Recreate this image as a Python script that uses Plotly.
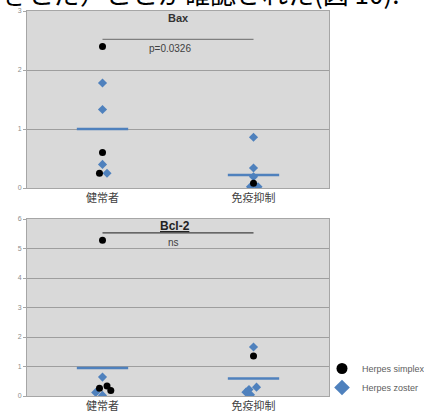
import plotly.graph_objects as go

W, H = 424, 414

categories = ["健常者", "免疫抑制"]

# Bax panel
bax_simplex_group = [0, 0, 0, 1]
bax_simplex_vals = [2.40, 0.60, 0.25, 0.08]
bax_simplex_jit = [0.0, 0.0, -0.02, 0.0]
bax_zoster_group = [0, 0, 0, 0, 1, 1, 1, 1, 1]
bax_zoster_vals = [1.78, 1.33, 0.40, 0.25, 0.86, 0.34, 0.19, 0.02, 0.02]
bax_zoster_jit = [0.0, 0.0, 0.0, 0.03, 0.0, 0.0, 0.0, -0.02, 0.03]
bax_means = [1.00, 0.22]
bax_sig_y = 2.52
bax_sig_text = "p=0.0326"

# Bcl-2 panel
bcl_simplex_group = [0, 0, 0, 0, 1]
bcl_simplex_vals = [5.28, 0.34, 0.26, 0.19, 1.36]
bcl_simplex_jit = [0.0, 0.03, -0.02, 0.055, 0.0]
bcl_zoster_group = [0, 0, 0, 1, 1, 1, 1, 1]
bcl_zoster_vals = [0.64, 0.12, 0.02, 1.66, 0.30, 0.22, 0.13, 0.04]
bcl_zoster_jit = [0.0, -0.045, 0.0, 0.0, 0.02, -0.03, -0.05, -0.02]
bcl_means = [0.95, 0.59]
bcl_sig_y = 5.53
bcl_sig_text = "ns"

BLUE = "#4f81bd"
BG = "#d9d9d9"
GRID = "#9e9e9e"

x_dom = [27 / W, 329 / W]
top_dom = [1 - 188 / H, 1 - 11 / H]
bot_dom = [1 - 396 / H, 1 - 219 / H]

fig = go.Figure()


def add_panel(xa, ya, s_grp, s_vals, s_jit, z_grp, z_vals, z_jit, means, sig_y):
    half = 0.17
    for i, m in enumerate(means):
        fig.add_trace(go.Scatter(x=[i - half, i + half], y=[m, m], mode="lines",
                                 line=dict(color=BLUE, width=2.5), showlegend=False,
                                 hoverinfo="skip", xaxis=xa, yaxis=ya))
    fig.add_trace(go.Scatter(x=[0, 1], y=[sig_y, sig_y], mode="lines",
                             line=dict(color="#7f7f7f" if ya == "y" else "#404040", width=1.3),
                             showlegend=False, xaxis=xa, yaxis=ya))
    fig.add_trace(go.Scatter(x=[g + j for g, j in zip(z_grp, z_jit)], y=z_vals, mode="markers",
                             marker=dict(symbol="diamond", color=BLUE, size=7),
                             name="Herpes zoster", showlegend=False, xaxis=xa, yaxis=ya))
    fig.add_trace(go.Scatter(x=[g + j for g, j in zip(s_grp, s_jit)], y=s_vals, mode="markers",
                             marker=dict(symbol="circle", color="black", size=7),
                             name="Herpes simplex", showlegend=False, xaxis=xa, yaxis=ya))


add_panel("x", "y", bax_simplex_group, bax_simplex_vals, bax_simplex_jit,
          bax_zoster_group, bax_zoster_vals, bax_zoster_jit, bax_means, bax_sig_y)
add_panel("x2", "y2", bcl_simplex_group, bcl_simplex_vals, bcl_simplex_jit,
          bcl_zoster_group, bcl_zoster_vals, bcl_zoster_jit, bcl_means, bcl_sig_y)

# legend-only entries
fig.add_trace(go.Scatter(x=[None], y=[None], mode="markers",
                         marker=dict(symbol="circle", color="black", size=11),
                         name="Herpes simplex", xaxis="x2", yaxis="y2"))
fig.add_trace(go.Scatter(x=[None], y=[None], mode="markers",
                         marker=dict(symbol="diamond", color=BLUE, size=12),
                         name="Herpes zoster", xaxis="x2", yaxis="y2"))

xcommon = dict(range=[-0.5, 1.5], tickvals=[0, 1], ticktext=categories,
               showgrid=False, zeroline=False, showline=True, linecolor="#a6a6a6",
               mirror=True, linewidth=1, ticks="", fixedrange=True, automargin=False,
               tickfont=dict(family="Noto Sans CJK JP", size=11, color="#404040"))
ycommon = dict(showgrid=True, gridcolor=GRID, gridwidth=1.3, zeroline=False,
               showline=True, linecolor="#a6a6a6", mirror=True, linewidth=1,
               ticks="outside", ticklen=3, tickcolor="#a6a6a6", automargin=False,
               tickfont=dict(family="Liberation Sans", size=7, color="#8c8c8c"))

fig.update_layout(
    width=W, height=H,
    margin=dict(l=0, r=0, t=0, b=0, autoexpand=False),
    paper_bgcolor="white", plot_bgcolor=BG,
    xaxis=dict(domain=x_dom, anchor="y", **xcommon),
    yaxis=dict(domain=top_dom, anchor="x", range=[0, 3], dtick=1, **ycommon),
    xaxis2=dict(domain=x_dom, anchor="y2", **xcommon),
    yaxis2=dict(domain=bot_dom, anchor="x2", range=[0, 6], dtick=1, **ycommon),
    legend=dict(x=322 / W, y=1 - 354 / H, xanchor="left", yanchor="top",
                font=dict(family="Liberation Sans", size=9, color="#606060"),
                bgcolor="rgba(0,0,0,0)", tracegroupgap=0, itemsizing="trace",
                itemwidth=30),
    showlegend=True,
    annotations=[
        dict(text="<b>Bax</b>", x=0.5, y=2.88, xref="x", yref="y", showarrow=False,
             font=dict(family="Liberation Sans", size=11, color="#333333"), yanchor="middle"),
        dict(text=bax_sig_text, x=0.45, y=2.37, xref="x", yref="y", showarrow=False,
             font=dict(family="Liberation Sans", size=10, color="#404040"), yanchor="middle"),
        dict(text="<b><u>Bcl-2</u></b>", x=0.48, y=5.75, xref="x2", yref="y2", showarrow=False,
             font=dict(family="Liberation Sans", size=12, color="#222222"), yanchor="middle"),
        dict(text=bcl_sig_text, x=0.47, y=5.2, xref="x2", yref="y2", showarrow=False,
             font=dict(family="Liberation Sans", size=10, color="#404040"), yanchor="middle"),
        dict(text="きとだ）ことが確認された(図 10).", x=0.0, y=1 + 7 / H, xref="paper", yref="paper",
             xanchor="left", yanchor="middle", showarrow=False,
             font=dict(family="Noto Sans CJK JP", size=26, color="black")),
    ],
)

fig.write_html("out.html", config={"displayModeBar": False},
               post_script="document.body.style.margin='0';document.body.style.overflow='hidden';")
